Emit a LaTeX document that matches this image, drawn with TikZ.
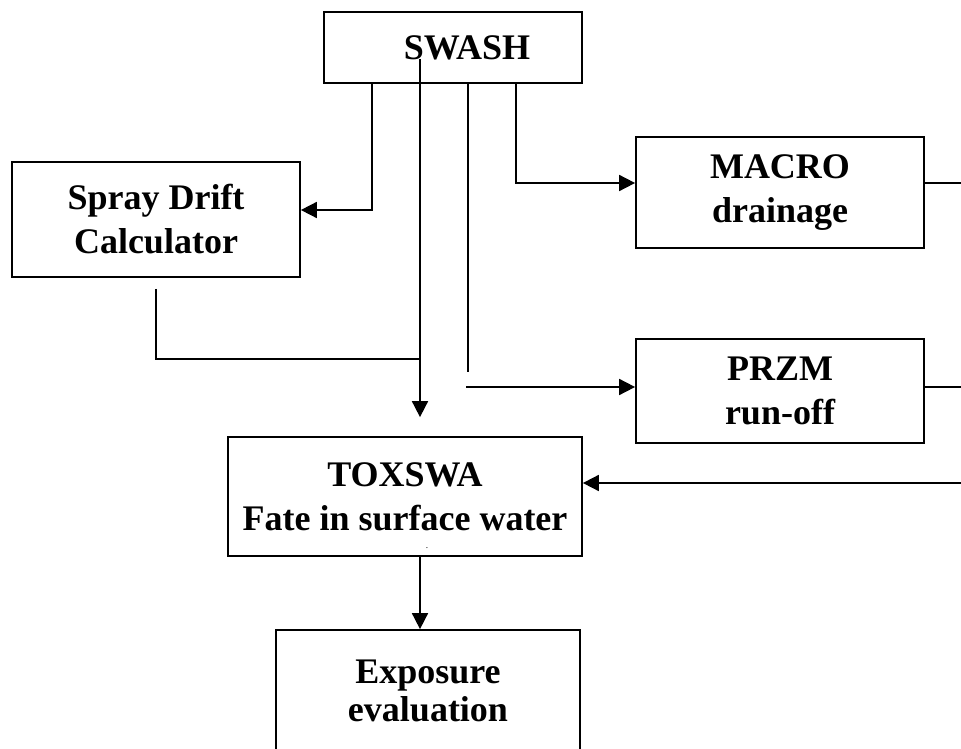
\documentclass[tikz,border=0pt]{standalone}
\usepackage{fontspec}
\setmainfont{Liberation Serif}
\usetikzlibrary{arrows.meta,positioning,calc}

\begin{document}
\begin{tikzpicture}[x=0.75pt,y=-0.75pt,line width=1.3pt,
  font=\bfseries\fontsize{27}{33}\selectfont,
  box/.style={draw,line width=1.3pt,align=center,inner sep=0pt},
  arr/.style={-{Triangle[length=12pt,width=12pt]}}]
\useasboundingbox (0,0) rectangle (961,749);
% boxes
\node[box,minimum width=193.5pt,minimum height=53.25pt] (swash) at (453,47.5) {\hspace*{21pt}SWASH};
\node[box,minimum width=216pt,minimum height=86.25pt] (spray) at (156,219.5) {Spray Drift\\Calculator};
\node[box,minimum width=216pt,minimum height=83.25pt] (macro) at (780,192.5) {MACRO\\drainage};
\node[box,minimum width=216pt,minimum height=78pt] (przm) at (780,391) {PRZM\\run-off};
\node[box,minimum width=265.5pt,minimum height=89.25pt] (toxswa) at (405,496.5) {TOXSWA\\Fate in surface water};
\node[font=\normalfont\scriptsize,inner sep=0pt] (speck) at (427,548) {.};
\node[box,minimum width=228pt,minimum height=91.5pt] (expo) at (428,691) {Exposure\\[-4pt]evaluation};

% taps under SWASH
\coordinate (t1) at (372,210);
\coordinate (t2) at (420,59);
\coordinate (t3) at (468,372);
\coordinate (t3b) at (466,387);
\coordinate (t4) at (516,183);
\coordinate (j1) at (420,359);
\coordinate (rin) at (961,483);

\draw[arr] (swash.south -| t1) -- (t1) -- (t1 -| spray.east);
\draw[arr,shorten >=14.25pt] (t2) -- (t2 |- toxswa.north);
\draw ([yshift=-8.25pt]spray.south) |- (j1);
\draw (swash.south -| t3) -- (t3);
\draw[arr] (t3b) -- (t3b -| przm.west);
\draw[arr] (swash.south -| t4) -- (t4) -- (t4 -| macro.west);

% returns on the right
\draw (macro.east |- t4) -- (961,183);
\draw (przm.east |- t3b) -- (961,387);
\draw[arr] (rin) -- (rin -| toxswa.east);
\draw[arr] (toxswa.south -| t2) -- (expo.north -| t2);
\end{tikzpicture}
\end{document}
